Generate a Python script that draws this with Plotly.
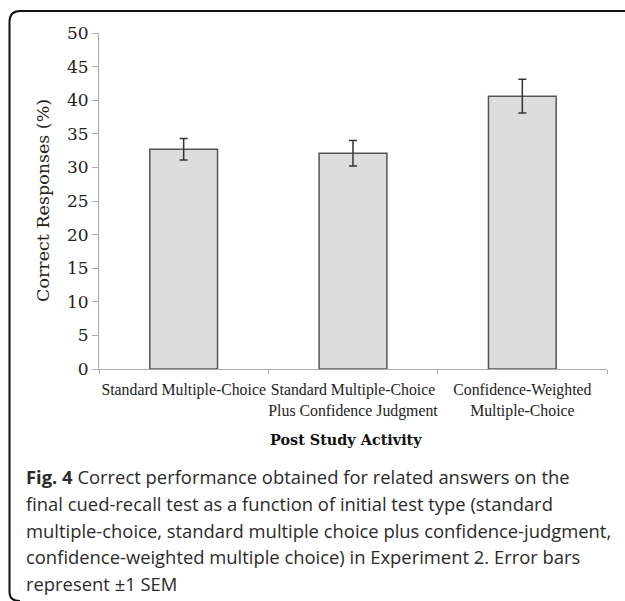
import plotly.graph_objects as go

categories = ["Standard Multiple-Choice",
              "Standard Multiple-Choice<br>Plus Confidence Judgment",
              "Confidence-Weighted<br>Multiple-Choice"]
values = [32.7, 32.1, 40.6]
sem = [1.6, 1.9, 2.5]
y_ticks = [0, 5, 10, 15, 20, 25, 30, 35, 40, 45, 50]

caption_lines = [
    "<b>Fig. 4</b> Correct performance obtained for related answers on the",
    "final cued-recall test as a function of initial test type (standard",
    "multiple-choice, standard multiple choice plus confidence-judgment,",
    "confidence-weighted multiple choice) in Experiment 2. Error bars",
    "represent ±1 SEM",
]

W, H = 625, 601
L, R, T, B = 99, 607, 33, 369


def px(x):
    return (x - L) / (R - L)


def py(y):
    return (B - y) / (B - T)


fig = go.Figure()
fig.add_trace(go.Bar(
    x=categories, y=values,
    marker=dict(color="#dddddd", line=dict(color="#555555", width=1.5)),
    error_y=dict(type="data", array=sem, visible=True, color="#333333",
                 thickness=1.5, width=4),
    width=0.4,
))

serif = "DejaVu Serif"
fig.update_layout(
    width=W, height=H,
    margin=dict(l=L, r=W - R, t=T, b=H - B),
    plot_bgcolor="white", paper_bgcolor="white",
    showlegend=False,
    font=dict(family=serif, color="#222222"),
    xaxis=dict(
        showline=True, linecolor="#aaaaaa", linewidth=1,
        ticks="outside", tickson="boundaries", ticklen=4, tickcolor="#aaaaaa",
        tickfont=dict(family="Liberation Serif", size=15.8, color="#222222"),
        tickangle=0, ticklabelstandoff=6,
        showgrid=False,
    ),
    yaxis=dict(
        range=[0, 50], tickvals=y_ticks,
        showline=True, linecolor="#aaaaaa", linewidth=1,
        ticks="outside", ticklen=6, tickcolor="#aaaaaa",
        tickfont=dict(family=serif, size=17, color="#222222"),
        showgrid=False, zeroline=False,
    ),
)

fig.add_annotation(
    text="Correct Responses (%)", xref="paper", yref="paper",
    x=px(43), y=py(201), xanchor="center", yanchor="middle", textangle=-90,
    showarrow=False, font=dict(family=serif, size=17.5, color="#222222"),
)

fig.add_annotation(
    text="<b>Post Study Activity</b>", xref="paper", yref="paper",
    x=px(346), y=py(439), xanchor="center", yanchor="middle",
    showarrow=False, font=dict(family=serif, size=14.4, color="#111111"),
)

line_y = [476, 503, 530, 556, 583]
for txt, yy in zip(caption_lines, line_y):
    fig.add_annotation(
        text=txt, xref="paper", yref="paper",
        x=px(24), y=py(yy), xanchor="left", yanchor="middle",
        showarrow=False, align="left",
        font=dict(family="Open Sans", size=18.4, color="#2a2a2a"),
    )

# rounded frame (left, top edges)
x0, y0, x1 = px(9.5), py(11), px(640)
rx, ry = px(20) - px(9.5), py(11) - py(22)
path = (f"M {x1},{y0} L {x0 + rx},{y0} Q {x0},{y0} {x0},{y0 - ry} "
        f"L {x0},{py(592)} Q {x0},{py(601)} {x0 + rx},{py(601)}")
fig.add_shape(type="path", path=path, xref="paper", yref="paper",
              line=dict(color="#111111", width=2))

fig.write_html("out.html", config={"displayModeBar": False},
               post_script="document.body.style.margin='0';document.body.style.overflow='hidden';")
